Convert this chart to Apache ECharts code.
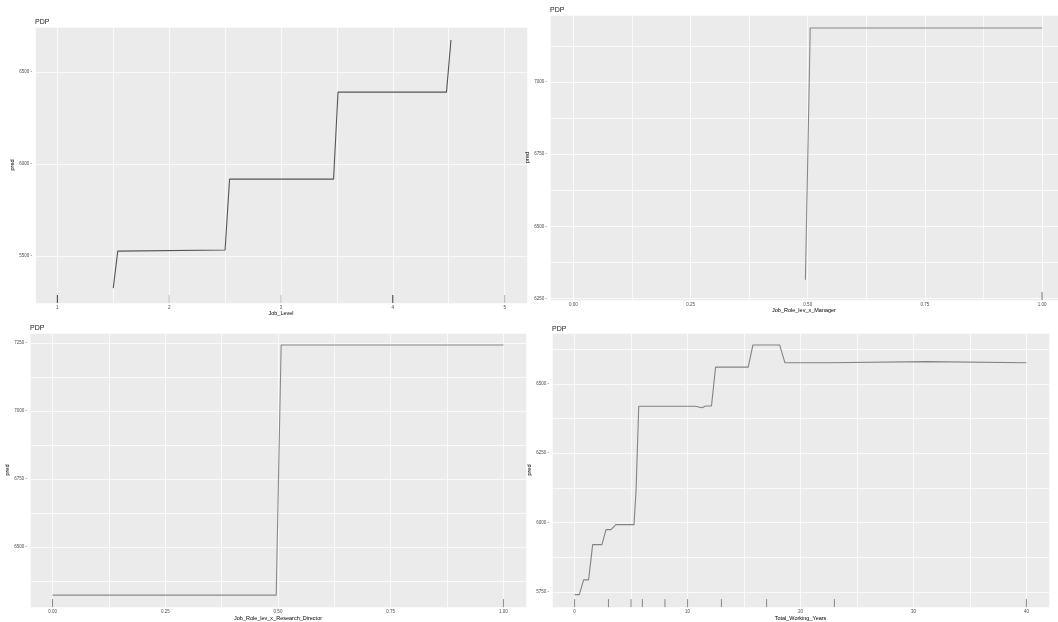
<!DOCTYPE html>
<html>
<head>
<meta charset="utf-8">
<title>PDP</title>
<script src="https://cdn.jsdelivr.net/npm/echarts@6/dist/echarts.min.js"></script>
<style>
  html, body { margin: 0; padding: 0; background: #fff; }
  #chart { width: 1058px; height: 622px; }
</style>
</head>
<body>
<div id="chart"></div>
<script>
    // values
    var jobLevelX = [1.5, 1.54, 2.5, 2.54, 3.47, 3.51, 4.48, 4.52];
    var jobLevelPred = [5326, 5527, 5533, 5918, 5918, 6391, 6391, 6674];
    var jobLevelRug = [1, 2, 3, 4, 5];
    var jobLevelRugAlpha = [0.9, 0.25, 0.25, 0.9, 0.3];
    var jobLevelXTicks = [1, 2, 3, 4, 5];
    var jobLevelYTicks = [5500, 6000, 6500];

    var managerX = [0.495, 0.505, 0.505, 1.0];
    var managerPred = [6315, 7156, 7187, 7187];
    var managerRug = [1];
    var managerRugAlpha = [0.6];
    var managerXTicks = [0, 0.25, 0.5, 0.75, 1];
    var managerYTicks = [6250, 6500, 6750, 7000];

    var directorX = [0, 0.496, 0.507, 1.0];
    var directorPred = [6324, 6324, 7243, 7243];
    var directorRug = [0, 1];
    var directorRugAlpha = [0.5, 0.5];
    var directorXTicks = [0, 0.25, 0.5, 0.75, 1];
    var directorYTicks = [6500, 6750, 7000, 7250];

    var yearsX = [0, 0.42, 0.8, 1.24, 1.6, 2.42, 2.78, 3.22, 3.66, 5.26, 5.44, 5.68, 10.7,
                  11.29, 11.59, 12.12, 12.48, 15.37, 15.79, 18.15, 18.62, 22.53, 22.59, 31.16, 31.22, 40];
    var yearsPred = [5741, 5741, 5794, 5794, 5921, 5921, 5975, 5975, 5993, 5993, 6114, 6419, 6419,
                     6414, 6420, 6420, 6560, 6560, 6640, 6640, 6576, 6576, 6580, 6580, 6576, 6576];
    var yearsRug = [0, 3, 5, 6, 8, 10, 13, 17, 23, 40];
    var yearsRugAlpha = [0.5, 0.5, 0.5, 0.5, 0.5, 0.5, 0.5, 0.5, 0.5, 0.5];
    var yearsXTicks = [0, 10, 20, 30, 40];
    var yearsYTicks = [5750, 6000, 6250, 6500];

    var FONT = 'Liberation Sans, DejaVu Sans, sans-serif';

    var panels = [
        {grid: {left: 35, top: 27, width: 492, height: 276}, title: {left: 35, top: 19},
         xMin: 0.8, xMax: 5.2, xStep: 0.5, yMin: 5245, yMax: 6745, yStep: 500,
         xTicks: jobLevelXTicks, yTicks: jobLevelYTicks, xDec: 0, xName: 'Job_Level', yGap: 17,
         x: jobLevelX, y: jobLevelPred, rug: jobLevelRug, rugAlpha: jobLevelRugAlpha, color: '#555'},
        {grid: {left: 550, top: 15, width: 508, height: 285}, title: {left: 550, top: 7},
         xMin: -0.05, xMax: 1.034, xStep: 0.125, yMin: 6245, yMax: 7232, yStep: 125,
         xTicks: managerXTicks, yTicks: managerYTicks, xDec: 2, xName: 'Job_Role_lev_x_Manager', yGap: 12,
         x: managerX, y: managerPred, rug: managerRug, rugAlpha: managerRugAlpha, color: '#888'},
        {grid: {left: 30, top: 333, width: 496, height: 275}, title: {left: 30, top: 325},
         xMin: -0.05, xMax: 1.05, xStep: 0.125, yMin: 6280, yMax: 7287, yStep: 125,
         xTicks: directorXTicks, yTicks: directorYTicks, xDec: 2, xName: 'Job_Role_lev_x_Research_Director', yGap: 12,
         x: directorX, y: directorPred, rug: directorRug, rugAlpha: directorRugAlpha, color: '#8a8a8a'},
        {grid: {left: 552, top: 333, width: 497, height: 275}, title: {left: 552, top: 326},
         xMin: -2, xMax: 42, xStep: 5, yMin: 5696, yMax: 6683, yStep: 125,
         xTicks: yearsXTicks, yTicks: yearsYTicks, xDec: 0, xName: 'Total_Working_Years', yGap: 8,
         x: yearsX, y: yearsPred, rug: yearsRug, rugAlpha: yearsRugAlpha, color: '#838383'}
    ];

    function near(list, v) {
        return list.some(function (t) { return Math.abs(t - v) < 1e-6; });
    }

    function zip(a, b) {
        return a.map(function (v, i) { return [v, b[i]]; });
    }

    var grids = [], titles = [], xAxes = [], yAxes = [], series = [];

    panels.forEach(function (p, i) {
        grids.push({left: p.grid.left, top: p.grid.top, width: p.grid.width, height: p.grid.height,
                    show: true, backgroundColor: '#ebebeb', borderWidth: 0});
        titles.push({text: 'PDP', left: p.title.left, top: p.title.top, padding: 0,
                     textStyle: {fontSize: 7, fontWeight: 'normal', color: '#1a1a1a', fontFamily: FONT}});
        xAxes.push({
            type: 'value', gridIndex: i, min: p.xMin, max: p.xMax,
            minInterval: p.xStep, maxInterval: p.xStep,
            name: p.xName, nameLocation: 'middle', nameGap: 7,
            nameTextStyle: {fontSize: 5.5, color: '#000', fontFamily: FONT},
            axisLine: {show: false}, axisTick: {show: false},
            axisLabel: {fontSize: 4.5, color: '#4d4d4d', margin: 2, fontFamily: FONT,
                        showMinLabel: false, showMaxLabel: false,
                        formatter: function (v) { return near(p.xTicks, v) ? v.toFixed(p.xDec) : ''; }},
            splitLine: {show: true, lineStyle: {color: '#fafafa', width: 1}}
        });
        yAxes.push({
            type: 'value', gridIndex: i, min: p.yMin, max: p.yMax,
            minInterval: p.yStep, maxInterval: p.yStep,
            name: 'pred', nameLocation: 'middle', nameGap: p.yGap,
            nameTextStyle: {fontSize: 5.5, color: '#000', fontFamily: FONT},
            axisLine: {show: false}, axisTick: {show: false},
            axisLabel: {fontSize: 4.5, color: '#4d4d4d', margin: 3, fontFamily: FONT,
                        showMinLabel: false, showMaxLabel: false,
                        formatter: function (v) { return near(p.yTicks, v) ? String(v) + ' -' : ''; }},
            splitLine: {show: true, lineStyle: {color: '#fafafa', width: 1}}
        });
        series.push({
            type: 'line', xAxisIndex: i, yAxisIndex: i, data: zip(p.x, p.y),
            showSymbol: false, animation: false,
            lineStyle: {color: p.color, width: 1.1}
        });
        series.push({
            type: 'custom', xAxisIndex: i, yAxisIndex: i, data: zip(p.rug, p.rugAlpha),
            animation: false,
            renderItem: function (params, api) {
                var pt = api.coord([api.value(0), p.yMin]);
                var cs = params.coordSys;
                var bottom = cs.y + cs.height;
                return {type: 'line',
                        shape: {x1: pt[0], y1: bottom, x2: pt[0], y2: bottom - 8},
                        style: {stroke: '#222', lineWidth: 1, opacity: api.value(1)}};
            }
        });
    });

    var chart = echarts.init(document.getElementById('chart'), null, {renderer: 'canvas'});
    chart.setOption({
        backgroundColor: '#ffffff',
        animation: false,
        title: titles,
        grid: grids,
        xAxis: xAxes,
        yAxis: yAxes,
        series: series
    });
</script>
</body>
</html>
